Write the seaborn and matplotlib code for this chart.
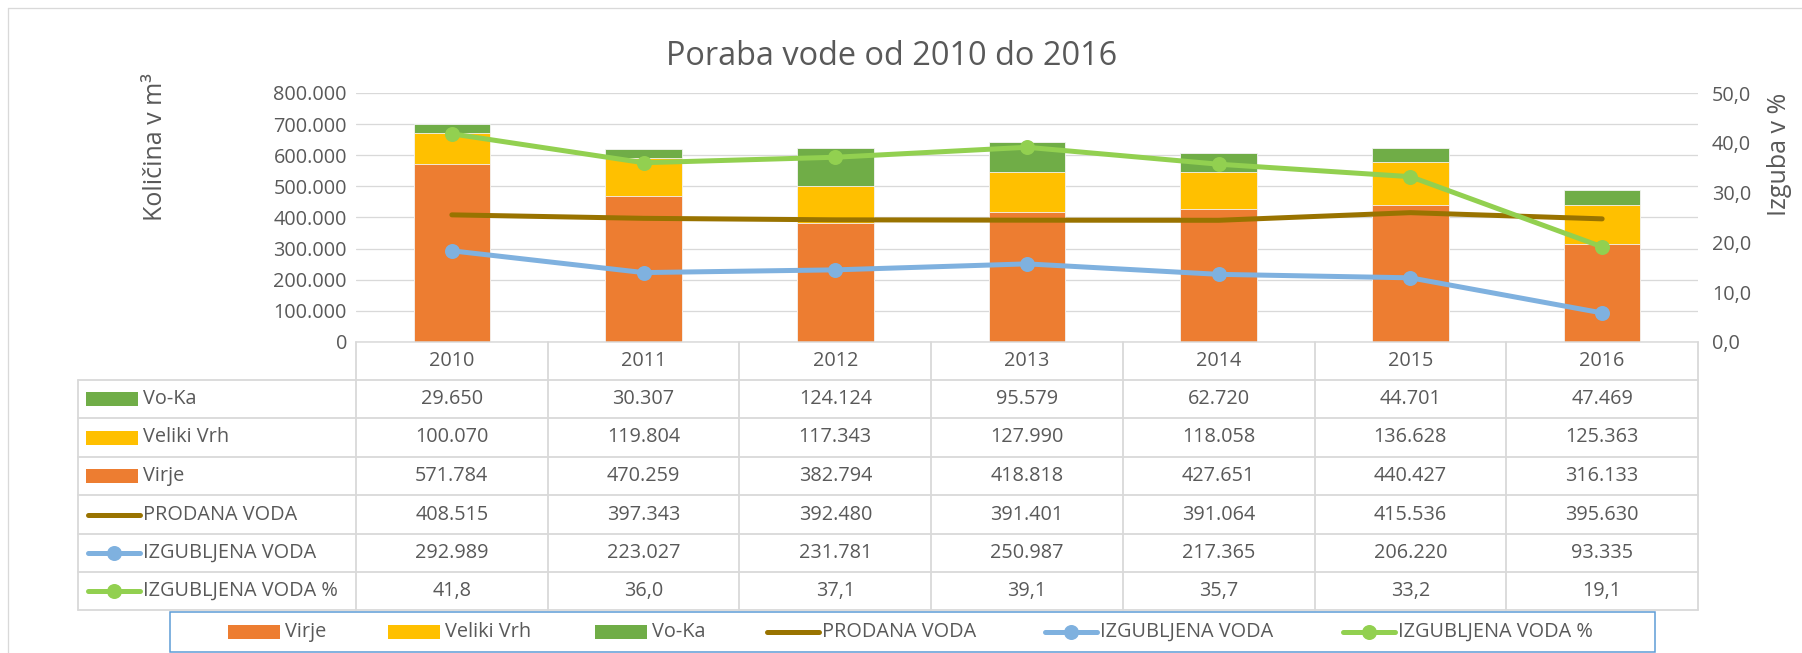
"""Poraba vode od 2010 do 2016 -- Excel-style combo chart with data table."""

import matplotlib.pyplot as plt
import numpy as np
import seaborn as sns
from matplotlib.lines import Line2D
from matplotlib.patches import Rectangle

sns.set_theme(style="white")
plt.rcParams["font.family"] = ["Open Sans", "DejaVu Sans"]

# ---- data -----------------------------------------------------------------
years = ["2010", "2011", "2012", "2013", "2014", "2015", "2016"]
virje = [571784, 470259, 382794, 418818, 427651, 440427, 316133]
veliki_vrh = [100070, 119804, 117343, 127990, 118058, 136628, 125363]
vo_ka = [29650, 30307, 124124, 95579, 62720, 44701, 47469]
prodana = [408515, 397343, 392480, 391401, 391064, 415536, 395630]
izgubljena = [292989, 223027, 231781, 250987, 217365, 206220, 93335]
izgubljena_pct = [41.8, 36.0, 37.1, 39.1, 35.7, 33.2, 19.1]

C_VIRJE = "#ED7D31"
C_VRH = "#FFC000"
C_VOKA = "#70AD47"
C_PROD = "#997300"
C_IZG = "#7FB1DF"
C_PCT = "#92D050"
TXT = "#595959"
GRID = "#D9D9D9"

W, H = 1802, 653
PX = 72 / 100  # points per pixel at dpi 100
FS = 14.3


def thou(v):
    return f"{v:,.0f}".replace(",", ".")


def dec(v):
    return f"{v:.1f}".replace(".", ",")


fig = plt.figure(figsize=(W / 100, H / 100), dpi=100)

# background overlay in pixel coordinates (frame, table, legend)
bg = fig.add_axes([0, 0, 1, 1], zorder=0)
bg.set_xlim(0, W)
bg.set_ylim(H, 0)
bg.axis("off")

# ---- main plot ------------------------------------------------------------
L, R, T, B = 356, 1698, 93, 342
ax = fig.add_axes([L / W, 1 - B / H, (R - L) / W, (B - T) / H], zorder=2)
ax.patch.set_alpha(0)

tot3 = np.array(virje) + np.array(veliki_vrh) + np.array(vo_ka)
tot2 = np.array(virje) + np.array(veliki_vrh)
for vals, col in [(tot3, C_VOKA), (tot2, C_VRH), (virje, C_VIRJE)]:
    sns.barplot(x=years, y=vals, color=col, saturation=1, width=0.4,
                errorbar=None, ax=ax, zorder=2, edgecolor="#F4F4F4",
                linewidth=0.6)

xpos = np.arange(len(years))
sns.lineplot(x=xpos, y=prodana, ax=ax, color=C_PROD, lw=5 * PX,
             solid_capstyle="round", zorder=3)
sns.lineplot(x=xpos, y=izgubljena, ax=ax, color=C_IZG, lw=5 * PX,
             marker="o", markersize=15 * PX, markeredgewidth=0,
             solid_capstyle="round", zorder=3)

ax.set_xlim(-0.5, len(years) - 0.5)
ax.set_ylim(0, 800000)
ax.set_yticks(np.arange(0, 800001, 100000))
ax.set_yticklabels([thou(v) for v in np.arange(0, 800001, 100000)])
ax.set_xticks([])
ax.set_xlabel("")
ax.set_ylabel("")
ax.yaxis.grid(True, color=GRID, lw=1.3 * PX, zorder=0)
ax.set_axisbelow(True)
for s in ["top", "left", "right"]:
    ax.spines[s].set_visible(False)
ax.spines["bottom"].set_color(GRID)
ax.spines["bottom"].set_linewidth(1.5 * PX)
ax.tick_params(axis="y", length=0, pad=9 * PX, labelsize=FS, labelcolor=TXT)

ax2 = ax.twinx()
ax2.set_zorder(3)
sns.lineplot(x=xpos, y=izgubljena_pct, ax=ax2, color=C_PCT, lw=5 * PX,
             marker="o", markersize=15 * PX, markeredgewidth=0,
             solid_capstyle="round")
ax2.set_ylim(0, 50)
ax2.set_yticks(np.arange(0, 51, 10))
ax2.set_yticklabels([dec(v) for v in np.arange(0, 51, 10)])
ax2.set_ylabel("")
for s in ax2.spines.values():
    s.set_visible(False)
ax2.tick_params(axis="y", length=0, pad=14 * PX, labelsize=FS, labelcolor=TXT)
ax2.set_xlim(ax.get_xlim())

# ---- titles / axis labels -------------------------------------------------
bg.text(892, 65, "Poraba vode od 2010 do 2016", ha="center", va="baseline",
        fontsize=23.4, color=TXT)
bg.text(155, 147, "Količina v m³", rotation=90, ha="center", va="center",
        fontsize=18, color=TXT)
bg.text(1779, 154, "Izguba v %", rotation=90, ha="center", va="center",
        fontsize=18, color=TXT)

# outer chart frame (left + top visible)
bg.plot([8, 8], [8, H], color=GRID, lw=1.3 * PX)
bg.plot([8, W], [8, 8], color=GRID, lw=1.3 * PX)

# ---- data table -----------------------------------------------------------
col_edges = np.linspace(L, R, len(years) + 1)
col_mid = (col_edges[:-1] + col_edges[1:]) / 2
row_edges = [380, 418, 457, 495, 534, 572, 610]
tl = 78
lw_t = 1.8 * PX

for x in col_edges:
    bg.plot([x, x], [B, row_edges[-1]], color=GRID, lw=lw_t)
bg.plot([tl, tl], [row_edges[0], row_edges[-1]], color=GRID, lw=lw_t)
for y in row_edges:
    bg.plot([tl, R], [y, y], color=GRID, lw=lw_t)

for xm, yr in zip(col_mid, years):
    bg.text(xm, (B + row_edges[0]) / 2, yr, ha="center", va="center",
            fontsize=FS, color=TXT)

rows = [
    ("Vo-Ka", vo_ka, "bar", C_VOKA, thou),
    ("Veliki Vrh", veliki_vrh, "bar", C_VRH, thou),
    ("Virje", virje, "bar", C_VIRJE, thou),
    ("PRODANA VODA", prodana, "line", C_PROD, thou),
    ("IZGUBLJENA VODA", izgubljena, "marker", C_IZG, thou),
    ("IZGUBLJENA VODA %", izgubljena_pct, "marker", C_PCT, dec),
]


def key(x0, yc, kind, col, width=52):
    if kind == "bar":
        bg.add_patch(Rectangle((x0, yc - 7), width, 14, color=col, lw=0))
    else:
        bg.add_line(Line2D([x0 + 2, x0 + width + 2], [yc, yc], color=col,
                           lw=5 * PX, solid_capstyle="round"))
        if kind == "marker":
            bg.plot([x0 + width / 2 + 2], [yc], "o", color=col,
                    markersize=15 * PX, markeredgewidth=0)


for i, (name, vals, kind, col, fmt) in enumerate(rows):
    yc = (row_edges[i] + row_edges[i + 1]) / 2
    key(86, yc, kind, col)
    bg.text(143, yc, name, ha="left", va="center", fontsize=FS, color=TXT)
    for xm, v in zip(col_mid, vals):
        bg.text(xm, yc, fmt(v), ha="center", va="center", fontsize=FS,
                color=TXT)

# ---- legend box -----------------------------------------------------------
bg.add_patch(Rectangle((170, 612), 1655 - 170, 40, fill=False,
                       edgecolor="#5B9BD5", lw=1.5 * PX))
leg_items = [
    (228, "Virje", "bar", C_VIRJE),
    (388, "Veliki Vrh", "bar", C_VRH),
    (595, "Vo-Ka", "bar", C_VOKA),
    (765, "PRODANA VODA", "line", C_PROD),
    (1043, "IZGUBLJENA VODA", "marker", C_IZG),
    (1341, "IZGUBLJENA VODA %", "marker", C_PCT),
]
for x0, name, kind, col in leg_items:
    key(x0, 632, kind, col)
    bg.text(x0 + 57, 632, name, ha="left", va="center", fontsize=FS,
            color=TXT)

fig.savefig("out.png", dpi=100)
